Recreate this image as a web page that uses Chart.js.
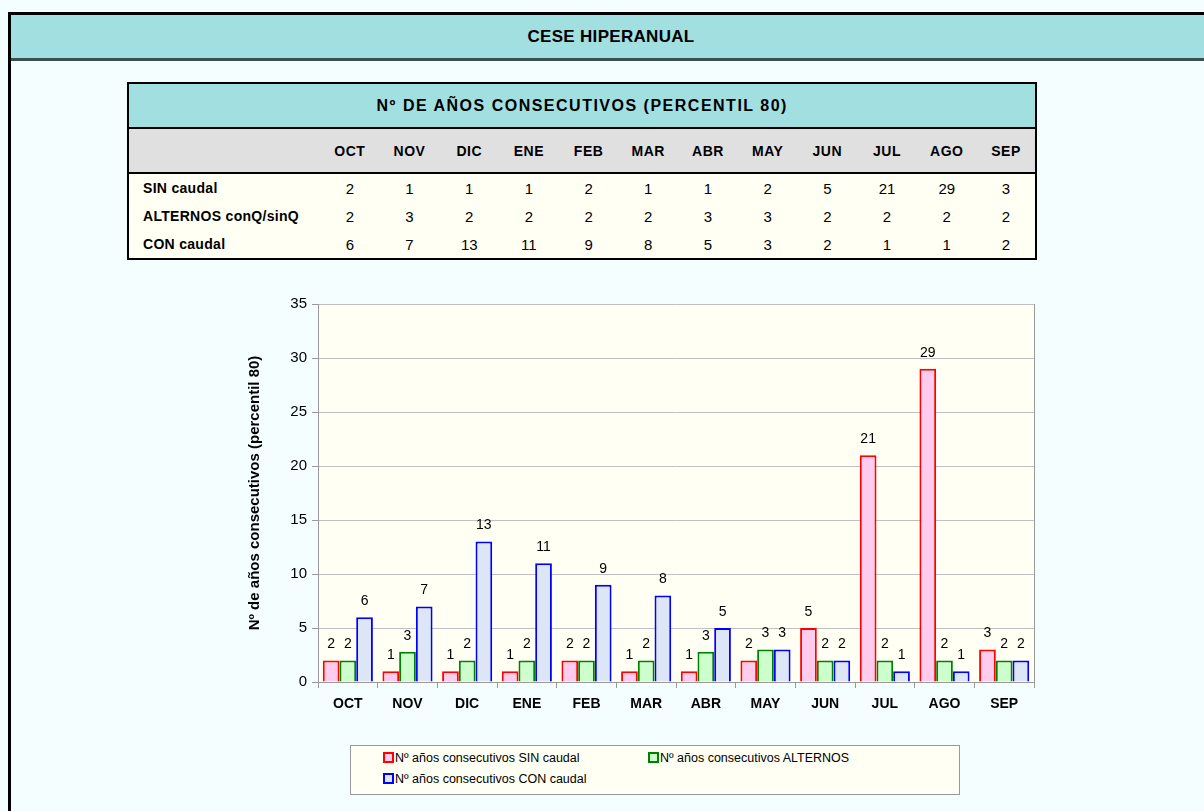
<!DOCTYPE html>
<html>
<head>
<meta charset="utf-8">
<script src="https://cdn.jsdelivr.net/npm/chart.js@4.4.0/dist/chart.umd.min.js"></script>
<style>
  body { margin: 0; background: #f4fefe; font-family: "Liberation Sans", Arial, sans-serif; }
  #marco { position: absolute; left: 8px; top: 12px; width: 1200px; height: 800px;
           border-left: 3px solid #000; border-top: 3px solid #000; }
  #cabecera { position: absolute; left: 0; top: 0; right: 0; height: 43px; background: #a2dfe0;
              border-bottom: 3px solid #3c5050; text-align: center; line-height: 43px;
              font-weight: bold; font-size: 17px; letter-spacing: 0.3px; color: #000; }
  table { position: absolute; left: 127px; top: 82px; border-collapse: collapse; table-layout: fixed; width: 909px; }
  td { padding: 0; font-size: 15px; text-align: center; }
  .tit td { background: #a2dfe0; height: 43px; font-weight: bold; font-size: 16px; letter-spacing: 1.5px; border: 2px solid #000; }
  .cab td { background: #e0e0e0; height: 43px; font-weight: bold; font-size: 14px; letter-spacing: 0.5px; border-bottom: 2px solid #000; }
  .fila td { background: #fffff3; height: 28px; }
  .fila td.et { text-align: left; padding-left: 14px; font-weight: bold; font-size: 14px; letter-spacing: 0.3px; }
  #tabla { border: 2px solid #000; }
  #cv { position: absolute; left: 230px; top: 290px; }
  #leyenda { position: absolute; left: 350px; top: 745px; width: 608px; height: 48px;
             background: #fffff3; border: 1px solid #999; font-size: 12.5px; }
  #leyenda span { position: absolute; white-space: nowrap; }
  #leyenda i { display: inline-block; width: 7px; height: 7px; border: 2px solid; margin-right: 1px; vertical-align: -1px; }
</style>
</head>
<body>
<div id="marco"><div id="cabecera">CESE HIPERANUAL</div></div>
<table id="tabla"></table>
<canvas id="cv" width="815" height="445"></canvas>
<div id="leyenda"></div>
<script>
var meses = ['OCT', 'NOV', 'DIC', 'ENE', 'FEB', 'MAR', 'ABR', 'MAY', 'JUN', 'JUL', 'AGO', 'SEP'];
var sinCaudal = [2, 1, 1, 1, 2, 1, 1, 2, 5, 21, 29, 3];
var alternos = [2, 2.8, 2, 2, 2, 2, 2.8, 3, 2, 2, 2, 2];
var conCaudal = [6, 7, 13, 11, 9, 8, 5, 3, 2, 1, 1, 2];
var filasTabla = ['SIN caudal', 'ALTERNOS conQ/sinQ', 'CON caudal'];
var seriesNombres = ['Nº años consecutivos SIN caudal', 'Nº años consecutivos ALTERNOS', 'Nº años consecutivos CON caudal'];
var yTicks = [0, 5, 10, 15, 20, 25, 30, 35];

// tabla de arriba
var tabla = document.getElementById('tabla');
var html = '<colgroup><col style="width:192px">';
meses.forEach(function() { html += '<col style="width:59.7px">'; });
html += '</colgroup>';
html += '<tr class="tit"><td colspan="13">Nº DE AÑOS CONSECUTIVOS (PERCENTIL 80)</td></tr>';
html += '<tr class="cab"><td></td>';
meses.forEach(function(m) { html += '<td>' + m + '</td>'; });
html += '</tr>';
[sinCaudal, alternos, conCaudal].forEach(function(serie, i) {
    html += '<tr class="fila"><td class="et">' + filasTabla[i] + '</td>';
    serie.forEach(function(v) { html += '<td>' + Math.round(v) + '</td>'; });
    html += '</tr>';
});
tabla.innerHTML = html;

var etiquetas = {
    id: 'etiquetas',
    afterDatasetsDraw: function(chart) {
        var ctx = chart.ctx;
        ctx.save();
        ctx.font = '14px "Liberation Sans", Arial';
        ctx.fillStyle = '#000';
        ctx.textAlign = 'center';
        ctx.textBaseline = 'bottom';
        chart.data.datasets.forEach(function(ds, i) {
            chart.getDatasetMeta(i).data.forEach(function(bar, j) {
                ctx.fillText(Math.round(ds.data[j]), bar.x, bar.y - 9);
            });
        });
        ctx.restore();
    }
};

var fondo = {
    id: 'fondo',
    beforeDraw: function(chart) {
        var a = chart.chartArea, ctx = chart.ctx;
        ctx.save();
        ctx.fillStyle = '#fffff3';
        ctx.fillRect(a.left, a.top, a.right - a.left, a.bottom - a.top);
        ctx.restore();
    },
    afterDraw: function(chart) {
        var a = chart.chartArea, ctx = chart.ctx;
        ctx.save();
        ctx.strokeStyle = '#999';
        ctx.lineWidth = 1;
        ctx.beginPath();
        ctx.moveTo(a.right + 0.5, a.top);
        ctx.lineTo(a.right + 0.5, a.bottom);
        ctx.stroke();
        ctx.restore();
    }
};

var chart = new Chart(document.getElementById('cv'), {
    type: 'bar',
    data: {
        labels: meses,
        datasets: [
            { label: seriesNombres[0], data: sinCaudal, backgroundColor: '#ffccee', borderColor: '#ff0000', borderWidth: 2 },
            { label: seriesNombres[1], data: alternos, backgroundColor: '#ccffcc', borderColor: '#008000', borderWidth: 2 },
            { label: seriesNombres[2], data: conCaudal, backgroundColor: '#dde6f7', borderColor: '#0000ff', borderWidth: 2 }
        ]
    },
    options: {
        responsive: false,
        animation: false,
        categoryPercentage: 0.84,
        barPercentage: 1.0,
        layout: { padding: { top: 12, right: 11 } },
        plugins: { legend: { display: false }, tooltip: { enabled: false } },
        scales: {
            x: {
                grid: { display: true, drawOnChartArea: false, offset: true, color: '#999', tickLength: 6 },
                border: { color: '#999' },
                ticks: { color: '#000', font: { size: 14, weight: 'bold', family: '"Liberation Sans", Arial' }, padding: 8 },
                afterFit: function(s) { s.height = 53; }
            },
            y: {
                min: 0, max: 35,
                afterBuildTicks: function(s) { s.ticks = yTicks.map(function(v) { return { value: v }; }); },
                grid: { color: '#c0c0c0', tickLength: 6, tickColor: '#999' },
                border: { color: '#999' },
                ticks: { color: '#000', font: { size: 15, family: '"Liberation Sans", Arial' }, padding: 5 },
                title: { display: true, text: 'Nº de años consecutivos (percentil 80)', color: '#000',
                         font: { size: 15, weight: 'bold', family: '"Liberation Sans", Arial' }, padding: { top: 16, bottom: 0 } },
                afterFit: function(s) { s.width = 88; }
            }
        }
    },
    plugins: [fondo, etiquetas]
});

// leyenda en caja, como en el original
var leyenda = document.getElementById('leyenda');
var posiciones = [[32, 5], [297, 5], [32, 26]];
chart.data.datasets.forEach(function(ds, i) {
    var s = document.createElement('span');
    s.style.left = posiciones[i][0] + 'px';
    s.style.top = posiciones[i][1] + 'px';
    s.innerHTML = '<i style="border-color:' + ds.borderColor + ';background:' + ds.backgroundColor + '"></i>' + ds.label;
    leyenda.appendChild(s);
});
</script>
</body>
</html>
